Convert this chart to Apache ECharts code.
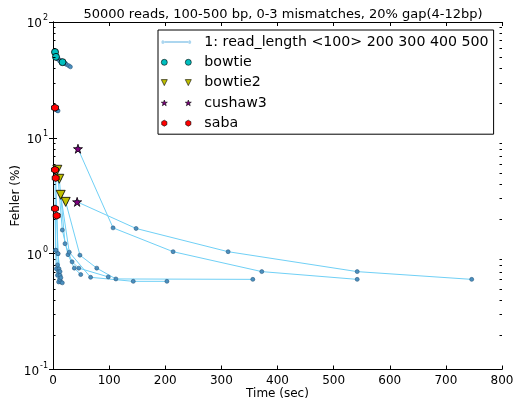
<!DOCTYPE html>
<html><head><meta charset="utf-8">
<script src="https://cdn.jsdelivr.net/npm/echarts@6/dist/echarts.min.js"></script>
<style>html,body{margin:0;padding:0;background:#fff}#c{width:515px;height:399px}</style>
</head><body><div id="c"></div>
<script>
const titleText = '50000 reads, 100-500 bp, 0-3 mismatches, 20% gap(4-12bp)';
const lineLegend = '1: read_length <100> 200 300 400 500';
const xTickMax = 800, xTickStep = 100;
const yMin = 0.1, yMax = 100;
const minorTicks = [0.2,0.3,0.4,0.5,0.6,0.7,0.8,0.9,2,3,4,5,6,7,8,9,20,30,40,50,60,70,80,90];

// each row = one configuration, points for read length 100,200,300,400,500
const bowtieTime = [[3.6,5,8,12,16],[5.3,8,12,16,22],[17,20,24,28,31]];
const bowtieErr  = [[55,52,49,47,46],[50,48,46,45,44],[45,44,43,42,41]];
const bowtie2Time = [[7.7,16.6,26.7,38,49.4],[11.2,21.4,34,46,98.5],[13.7,29,67,143,203],[22.6,48,78,112,356]];
const bowtie2Err  = [[5.3,1.6,0.98,0.75,0.66],[4.43,1.22,0.85,0.75,0.63],[3.22,1.03,0.625,0.577,0.577],[2.8,0.97,0.75,0.605,0.6]];
const cushawTime = [[44.5,107,214,372,542],[43,148,312,542,746]];
const cushawErr  = [[8.05,1.67,1.04,0.70,0.60],[2.8,1.65,1.04,0.70,0.60]];
const sabaTime = [[3.6,5,7,8,9],[3.6,4.5,6,8,10],[4.8,8.9,10.7,12.5,14],[3.6,5.3,8,10,12],[6.6,8.9,12.5,14,16.6]];
const sabaErr  = [[18.2,17.6,17.3,17.2,17.1],[5.3,1.07,0.74,0.65,0.57],[4.5,1.0,0.74,0.65,0.57],[2.45,1.07,0.8,0.7,0.6],[2.13,1.0,0.7,0.62,0.56]];

const tools = [
  {name:'bowtie', t:bowtieTime, e:bowtieErr, color:'#00bfbf', symbol:'circle', size:7,
   icon:'path://M0,3a3,3 0 1,0 6,0a3,3 0 1,0 -6,0M24,3a3,3 0 1,0 6,0a3,3 0 1,0 -6,0'},
  {name:'bowtie2', t:bowtie2Time, e:bowtie2Err, color:'#bfbf00', symbol:'path://M0,0L10,0L5,9Z', size:9,
   icon:'path://M0,0L6,0L3,6ZM24,0L30,0L27,6Z'},
  {name:'cushaw3', t:cushawTime, e:cushawErr, color:'#800080',
   symbol:'path://M50,0L61,35L98,35L68,57L79,91L50,70L21,91L32,57L2,35L39,35Z', size:9,
   icon:'path://M3,0L3.7,2.1L6,2.1L4.2,3.4L4.9,5.6L3,4.3L1.1,5.6L1.8,3.4L0,2.1L2.3,2.1ZM27,0L27.7,2.1L30,2.1L28.2,3.4L28.9,5.6L27,4.3L25.1,5.6L25.8,3.4L24,2.1L26.3,2.1Z'},
  {name:'saba', t:sabaTime, e:sabaErr, color:'#ff0000',
   symbol:'path://M0,-1L0.866,-0.5L0.866,0.5L0,1L-0.866,0.5L-0.866,-0.5Z', size:7,
   icon:'path://M3,0L5.6,1.5L5.6,4.5L3,6L0.4,4.5L0.4,1.5ZM27,0L29.6,1.5L29.6,4.5L27,6L24.4,4.5L24.4,1.5Z'}
];

const series = [];
tools.forEach(tl => {
  tl.t.forEach((row, i) => {
    series.push({
      name: lineLegend, type:'line', xAxisIndex:0, yAxisIndex:0,
      data: row.map((x, j) => [x, tl.e[i][j]]),
      symbol:'circle', symbolSize:4, z:3,
      lineStyle:{color:'#70d0f6', width:1},
      itemStyle:{color:'#4a8fbf', borderColor:'#2a5a80', borderWidth:0.6},
      emphasis:{disabled:true}, animation:false
    });
  });
});
tools.forEach(tl => {
  series.push({
    name: tl.name, type:'scatter', xAxisIndex:0, yAxisIndex:0,
    data: tl.t.map((row, i) => [row[0], tl.e[i][0]]),
    symbol: tl.symbol, symbolSize: tl.size, z:5,
    itemStyle:{color: tl.color, borderColor:'#000', borderWidth:0.8, opacity:1},
    emphasis:{disabled:true}, animation:false
  });
});
// minor ticks of log axis (left and right), y from the axis scale, x from the grid edges
series.push({
  type:'custom', xAxisIndex:0, yAxisIndex:0, silent:true, z:10, animation:false, clip:false,
  data: minorTicks.map(v => [0, v]),
  renderItem: function(params, api){
    const v = api.value(1);
    const y = Math.round(api.coord([0, v])[1]) + 0.5;
    const cs = params.coordSys;
    const xl = cs.x, xr = cs.x + cs.width;
    return {type:'group', children:[
      {type:'line', shape:{x1:xl, y1:y, x2:xl+2.5, y2:y}, style:{stroke:'#000', lineWidth:1}},
      {type:'line', shape:{x1:xr, y1:y, x2:xr-2.5, y2:y}, style:{stroke:'#000', lineWidth:1}}
    ]};
  }
});

const legendData = [{name: lineLegend,
   icon:'path://M0,2.5L30,2.5L30,3.5L0,3.5ZM0,3a1.6,1.6 0 1,0 3.2,0a1.6,1.6 0 1,0 -3.2,0M26.8,3a1.6,1.6 0 1,0 3.2,0a1.6,1.6 0 1,0 -3.2,0',
   itemStyle:{color:'#5aaee0', borderWidth:0}}]
  .concat(tools.map(tl => ({name: tl.name, icon: tl.icon, itemStyle:{color: tl.color, borderColor:'#000', borderWidth:0.6}})));

const supLabel = v => {
  const k = Math.round(Math.log10(v));
  return '{b|10}{s|' + k + '}';
};
const rich = {b:{fontSize:12, fontFamily:'DejaVu Sans', color:'#000', lineHeight:16, verticalAlign:'bottom'},
              s:{fontSize:8, fontFamily:'DejaVu Sans', color:'#000', lineHeight:16, verticalAlign:'top', padding:[0,0,0,1]}};

const chart = echarts.init(document.getElementById('c'), null, {renderer:'canvas'});
chart.setOption({
  animation:false,
  backgroundColor:'#fff',
  title:{text:titleText, left:278, top:3, textAlign:'center',
    textStyle:{fontSize:13, fontWeight:'normal', color:'#000', fontFamily:'DejaVu Sans'}},
  grid:{left:53, right:13, top:22, bottom:29.5, containLabel:false, outerBoundsMode:'none'},
  legend:{orient:'vertical', left:158, top:30, padding:[4,5,3,3], itemGap:4.3,
    itemWidth:30, itemHeight:6, borderColor:'#000', borderWidth:1, backgroundColor:'#fff',
    textStyle:{fontSize:14.2, fontFamily:'DejaVu Sans', color:'#000', lineHeight:16, padding:[0,0,0,8]},
    data: legendData, selectedMode:false},
  xAxis:[
    {type:'value', min:0, max:xTickMax, interval:xTickStep, position:'bottom',
     name:'Time (sec)', nameLocation:'middle', nameGap:18, nameMoveOverlap:false,
     nameTextStyle:{fontSize:12, fontFamily:'DejaVu Sans', color:'#000'},
     axisLine:{lineStyle:{color:'#000', width:1}},
     axisTick:{inside:true, length:4, lineStyle:{color:'#000'}},
     axisLabel:{fontSize:12, fontFamily:'DejaVu Sans', color:'#000', margin:5},
     splitLine:{show:false}},
    {type:'value', min:0, max:xTickMax, interval:xTickStep, position:'top',
     axisLine:{lineStyle:{color:'#000', width:1}},
     axisTick:{inside:true, length:4, lineStyle:{color:'#000'}},
     axisLabel:{show:false}, splitLine:{show:false}}
  ],
  yAxis:[
    {type:'log', logBase:10, min:yMin, max:yMax, position:'left',
     name:'Fehler (%)', nameLocation:'middle', nameGap:31, nameMoveOverlap:false,
     nameTextStyle:{fontSize:12, fontFamily:'DejaVu Sans', color:'#000'},
     axisLine:{lineStyle:{color:'#000', width:1}},
     axisTick:{inside:true, length:4, lineStyle:{color:'#000'}},
     axisLabel:{formatter:supLabel, rich:rich, margin:5},
     splitLine:{show:false}},
    {type:'log', logBase:10, min:yMin, max:yMax, position:'right',
     axisLine:{lineStyle:{color:'#000', width:1}},
     axisTick:{inside:true, length:4, lineStyle:{color:'#000'}},
     axisLabel:{show:true, formatter:supLabel, rich:{b:{color:'rgba(0,0,0,0)'}, s:{color:'rgba(0,0,0,0)'}}, color:'rgba(0,0,0,0)'},
     splitLine:{show:false}}
  ],
  series: series
});
</script></body></html>
